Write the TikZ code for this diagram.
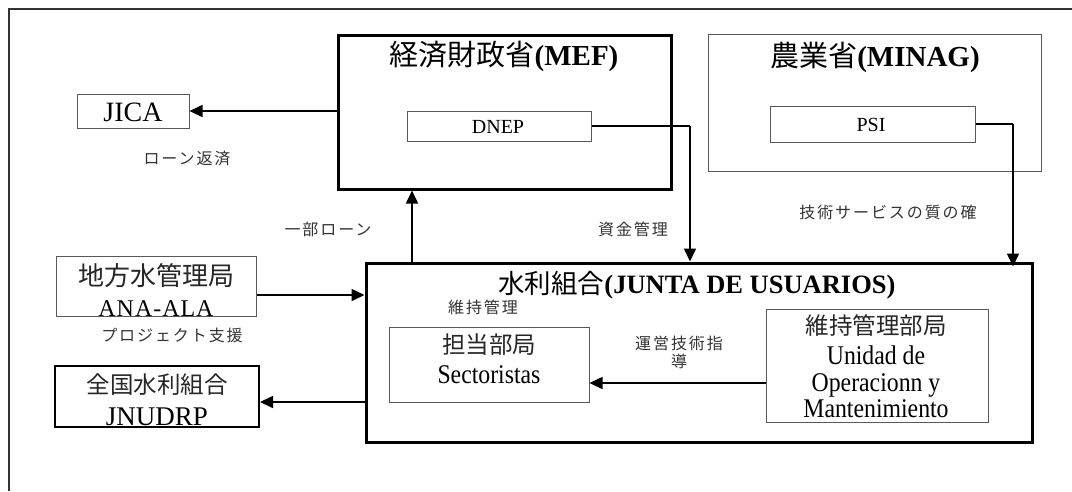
\documentclass[tikz,border=0pt]{standalone}
\usepackage{fontspec}
\setmainfont{Liberation Serif}
\newfontfamily\jp{Noto Sans CJK JP}
\newfontfamily\narrowserif[FakeStretch=0.88]{Liberation Serif}
\usetikzlibrary{arrows.meta}
\tikzset{
  thickbox/.style={draw=black, line width=3pt, rectangle, inner sep=0pt},
  thinbox/.style={draw=black!65, line width=1pt, rectangle, inner sep=0pt},
  medbox/.style={draw=black, line width=2pt, rectangle, inner sep=0pt},
  arr/.style={draw=black, line width=1.6pt, -{Triangle[length=13pt,width=12pt]}},
  conn/.style={draw=black, line width=1.6pt},
  lbl/.style={inner sep=0pt, font=\jp\fontsize{16}{18}\addfontfeature{LetterSpace=12}\selectfont, text=black!80},
  big/.style={inner sep=0pt, anchor=base, font=\narrowserif\fontsize{27}{29}\selectfont},
  bigjp/.style={inner sep=0pt, font=\jp\fontsize{23.5}{26}\selectfont, text=black!85},
  title/.style={inner sep=0pt, font=\fontsize{29}{31}\selectfont}
}
\begin{document}
\begin{tikzpicture}[x=1pt,y=-1pt]
\useasboundingbox (0,0) rectangle (1072,491);
% outer frame
\draw[black!80, line width=1.5pt] (9,491) -- (9,9) -- (1072,9);

% boxes
\node[thickbox, minimum width=333pt, minimum height=154pt] (mef) at (504.5,112) {};
\node[thinbox, minimum width=333pt, minimum height=137pt] (minag) at (874.5,102.5) {};
\node[thinbox, minimum width=184pt, minimum height=30pt] (dnep) at (499,126) {};
\node[thinbox, minimum width=205pt, minimum height=36pt] (psi) at (872.5,124) {};
\node[thinbox, minimum width=112pt, minimum height=34pt] (jica) at (133,111) {};
\node[thickbox, minimum width=666pt, minimum height=179pt] (junta) at (699,352.5) {};
\node[thinbox, minimum width=200pt, minimum height=60pt] (ana) at (156,286) {};
\node[medbox, minimum width=204pt, minimum height=61pt] (jnu) at (157,396.5) {};
\node[thinbox, minimum width=200pt, minimum height=75pt] (sect) at (489,364.5) {};
\node[thinbox, minimum width=222pt, minimum height=113pt] (uom) at (877,365.5) {};

% box texts
\node[title] (mefT) at (504,56) {{\jp 経済財政省}\textbf{(MEF)}};
\node[title] (minagT) at (875,57) {{\jp 農業省}\textbf{(MINAG)}};
\node[inner sep=0pt, font=\fontsize{20}{22}\selectfont] (dnepT) at (498,127) {DNEP};
\node[inner sep=0pt, font=\fontsize{20}{22}\selectfont] (psiT) at (871,125) {PSI};
\node[inner sep=0pt, font=\fontsize{28}{30}\selectfont] (jicaT) at (133,112) {JICA};
\node[inner sep=0pt, font=\fontsize{26.5}{28}\selectfont] (juntaT) at (697,285) {{\jp 水利組合}\textbf{(JUNTA DE USUARIOS)}};
\node[bigjp, font=\jp\fontsize{26}{28}\selectfont] (anaT1) at (156,276) {地方水管理局};
\begin{scope}
\clip (56,256) rectangle (256,315.5);
\node[inner sep=0pt, anchor=base, font=\fontsize{24}{26}\addfontfeature{LetterSpace=4}\selectfont] (anaT2) at (156,316.5) {ANA-ALA};
\end{scope}
\node[bigjp] (jnuT1) at (157,384.5) {全国水利組合};
\node[inner sep=0pt, anchor=base, font=\fontsize{27}{29}\selectfont] (jnuT2) at (157,425) {JNUDRP};
\node[bigjp] (sectT1) at (489,345) {担当部局};
\node[big] (sectT2) at (489,383) {Sectoristas};
\node[bigjp] (uomT1) at (876,326) {維持管理部局};
\node[big] (uomT2) at (876,364) {Unidad de};
\node[big] (uomT3) at (876,391) {Operacionn y};
\node[big] (uomT4) at (876,417) {Mantenimiento};

% helper coordinates
\coordinate (cx1) at (412,0);
\coordinate (cx2) at (690,0);
\coordinate (cx3) at (1013,0);
\coordinate (cy1) at (0,295);
\coordinate (cy2) at (0,402);
\coordinate (cy3) at (0,383);

% connectors
\draw[arr] (mef.west |- jica.east) -- (jica.east);
\draw[arr] (junta.north -| cx1) -- (mef.south -| cx1);
\draw[conn] (dnep.east) -- (dnep.east -| cx2);
\draw[arr] (dnep.east -| cx2) -- (junta.north -| cx2);
\draw[conn] (psi.east) -- (psi.east -| cx3);
\draw[arr] (psi.east -| cx3) -- ([yshift=-5pt]junta.north -| cx3);
\draw[arr] (ana.east |- cy1) -- (junta.west |- cy1);
\draw[arr] (junta.west |- cy2) -- (jnu.east |- cy2);
\draw[arr] (uom.west |- cy3) -- (sect.east |- cy3);

% labels
\node[lbl] (l1) at (187,158) {ローン返済};
\node[lbl] (l2) at (328,229) {一部ローン};
\node[lbl] (l3) at (633,229) {資金管理};
\node[lbl] (l4) at (888,212) {技術サービスの質の確};
\node[lbl] (l5) at (483,307) {維持管理};
\node[lbl] (l6) at (172,335) {プロジェクト支援};
\node[lbl, align=center] (l7) at (679,352) {運営技術指\\導};
\end{tikzpicture}
\end{document}
